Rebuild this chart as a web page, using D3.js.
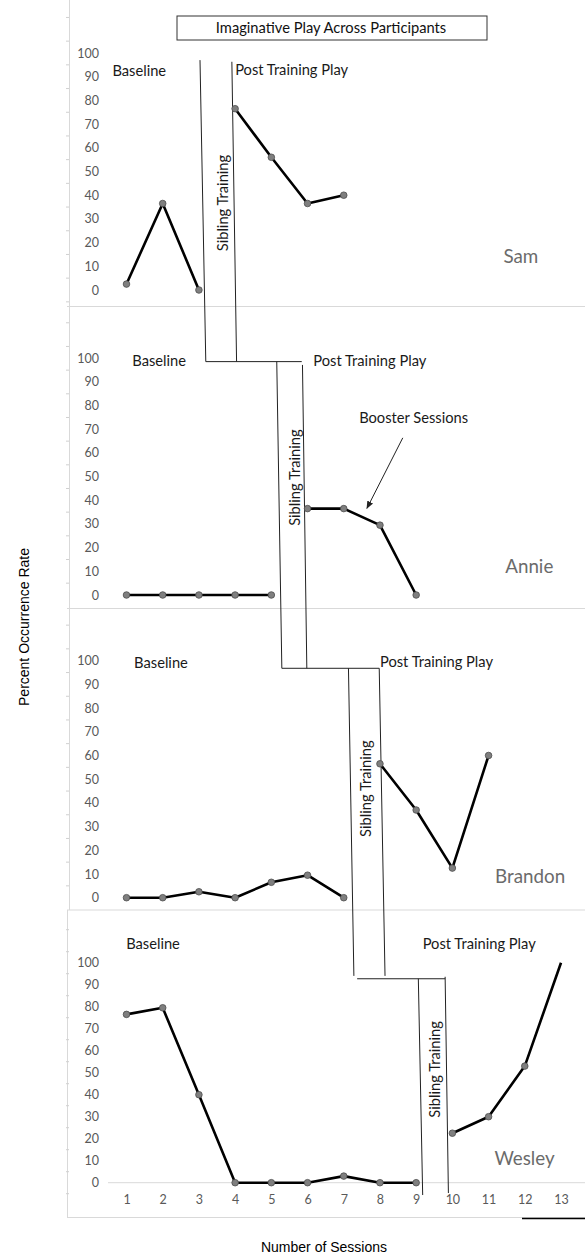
<!DOCTYPE html>
<html>
<head>
<meta charset="utf-8">
<script src="https://cdn.jsdelivr.net/npm/d3@7"></script>
<style>
  body { margin: 0; background: #fff; }
  svg text { font-family: Lato, "Open Sans", sans-serif; }
</style>
</head>
<body>
<div class="container"></div>
<script>
const yTicks = [0, 10, 20, 30, 40, 50, 60, 70, 80, 90, 100];
const sessionTicks = [1, 2, 3, 4, 5, 6, 7, 8, 9, 10, 11, 12, 13];
const participants = ["Sam", "Annie", "Brandon", "Wesley"];

const baselineSessions = [
  [1, 2, 3],
  [1, 2, 3, 4, 5],
  [1, 2, 3, 4, 5, 6, 7],
  [1, 2, 3, 4, 5, 6, 7, 8, 9]
];
const baselineValues = [
  [2.5, 36.5, 0],
  [0, 0, 0, 0, 0],
  [0, 0, 2.5, 0, 6.5, 9.5, 0],
  [76.5, 79.5, 40, 0, 0, 0, 3, 0, 0]
];
const postSessions = [
  [4, 5, 6, 7],
  [6, 7, 8, 9],
  [8, 9, 10, 11],
  [10, 11, 12, 13]
];
const postValues = [
  [76.5, 56, 36.5, 40],
  [36.5, 36.5, 29.5, 0],
  [56.5, 37, 12.5, 60],
  [22.5, 30, 53, 100]
];

const w = 585, h = 1259;
const labelSize = 14.7;

// pixel layout of the four stacked panels
const panels = [
  { y100: 53, y0: 290, bottom: 306.5 },
  { y100: 358.3, y0: 595, bottom: 608.5 },
  { y100: 660.7, y0: 897.7, bottom: 910 },
  { y100: 962.7, y0: 1182.7, bottom: 1217.5 }
];

const xScale = d3.scaleLinear().domain([1, 13]).range([126.5, 561]);
const yScales = panels.map(p => d3.scaleLinear().domain([0, 100]).range([p.y0, p.y100]));
const pt = (i, s, v) => [xScale(s), yScales[i](v)];

const svg = d3.select(".container")
  .append("svg")
  .attr("width", w)
  .attr("height", h)
  .attr("viewBox", [0, 0, w, h]);

// frame: left border, panel separators, bottom
svg.append("line").attr("x1", 69.5).attr("x2", 69.5).attr("y1", 0).attr("y2", 910)
  .attr("stroke", "#d9d9d9");
svg.append("line").attr("x1", 67.5).attr("x2", 67.5).attr("y1", 910).attr("y2", 1217.5)
  .attr("stroke", "#d9d9d9");
panels.forEach(p => {
  svg.append("line").attr("x1", 67).attr("x2", w).attr("y1", p.bottom).attr("y2", p.bottom)
    .attr("stroke", "#d9d9d9");
});
svg.append("line").attr("x1", 522).attr("x2", w).attr("y1", 1218.5).attr("y2", 1218.5)
  .attr("stroke", "#000").attr("stroke-width", 1.5);

// faint stubs on the left border
panels.forEach((p, i) => {
  const top = i === 0 ? 0 : panels[i - 1].bottom;
  d3.range(-5, 130, 10).forEach(v => {
    const y = yScales[i](v);
    if (y > top + 3 && y < p.bottom - 3) {
      svg.append("line").attr("x1", 66).attr("x2", 69).attr("y1", y).attr("y2", y)
        .attr("stroke", "#d0d0d0");
    }
  });
});

// title box
svg.append("rect").attr("x", 177).attr("y", 16).attr("width", 310).attr("height", 24)
  .attr("fill", "none").attr("stroke", "#333").attr("stroke-width", 1);
svg.append("text").attr("x", 331).attr("y", 28).attr("dy", "0.35em").attr("text-anchor", "middle")
  .attr("font-size", labelSize).attr("fill", "#111")
  .text("Imaginative Play Across Participants");

// y axes
panels.forEach((p, i) => {
  const g = svg.append("g")
    .attr("transform", "translate(102,0)")
    .call(d3.axisLeft(yScales[i]).tickValues(yTicks).tickSize(0).tickPadding(3));
  g.select(".domain").remove();
  g.selectAll("text").attr("font-size", 12.5).attr("fill", "#595959")
    .style("font-family", "Lato, 'Open Sans', sans-serif");
});

// x axis on the last panel
svg.append("line").attr("x1", 108).attr("x2", w).attr("y1", panels[3].y0).attr("y2", panels[3].y0)
  .attr("stroke", "#d9d9d9");
const gx = svg.append("g")
  .attr("transform", `translate(0,${panels[3].y0})`)
  .call(d3.axisBottom(xScale).tickValues(sessionTicks).tickSize(0).tickPadding(12));
gx.select(".domain").remove();
gx.selectAll("text").attr("font-size", 12.5).attr("fill", "#595959")
  .style("font-family", "Lato, 'Open Sans', sans-serif");

// phase-change lines (staircase)
const phaseLines = [
  [[0, 3.03, 97], [1, 3.19, 98.6]],
  [[0, 3.91, 96.3], [1, 4.04, 98.6]],
  [[1, 3.19, 98.6], [1, 5.84, 98.6]],
  [[1, 5.15, 98.6], [2, 5.29, 96.8]],
  [[1, 5.86, 97.2], [2, 5.98, 96.8]],
  [[2, 5.29, 96.8], [2, 7.98, 96.8]],
  [[2, 7.13, 96.8], [3, 7.28, 94]],
  [[2, 7.98, 96.8], [3, 8.14, 94]],
  [[3, 7.37, 92.7], [3, 9.80, 92.7]],
  [[3, 9.06, 92.7], [3, 9.18, -5.6]],
  [[3, 9.80, 93.6], [3, 9.89, -4.7]]
];
svg.append("g").selectAll("line")
  .data(phaseLines)
  .join("line")
  .attr("x1", d => pt(...d[0])[0])
  .attr("y1", d => pt(...d[0])[1])
  .attr("x2", d => pt(...d[1])[0])
  .attr("y2", d => pt(...d[1])[1])
  .attr("stroke", "#222")
  .attr("stroke-width", 1);

// phase labels
const baselineLabelPos = [[0.61, 92.5], [1.16, 98.9], [1.21, 99.3], [0.99, 108.5]];
const postLabelPos = [[4.0, 92.8], [6.16, 98.9], [8.0, 99.5], [9.18, 108.5]];
const siblingLabelPos = [[3.67, 36.7], [5.65, 49.6], [7.61, 46], [9.52, 51.5]];
const nameLabelPos = [[11.41, 14.3], [11.46, 12], [11.18, 8.9], [11.16, 11.1]];

panels.forEach((p, i) => {
  const b = pt(i, ...baselineLabelPos[i]);
  svg.append("text").attr("x", b[0]).attr("y", b[1]).attr("dy", "0.35em")
    .attr("font-size", labelSize).attr("fill", "#1a1a1a").text("Baseline");
  const q = pt(i, ...postLabelPos[i]);
  svg.append("text").attr("x", q[0]).attr("y", q[1]).attr("dy", "0.35em")
    .attr("font-size", labelSize).attr("fill", "#1a1a1a").text("Post Training Play");
  const s = pt(i, ...siblingLabelPos[i]);
  svg.append("text").attr("transform", `translate(${s[0]},${s[1]}) rotate(-90)`)
    .attr("dy", "0.35em").attr("text-anchor", "middle")
    .attr("font-size", labelSize).attr("fill", "#1a1a1a").text("Sibling Training");
  const n = pt(i, ...nameLabelPos[i]);
  svg.append("text").attr("x", n[0]).attr("y", n[1]).attr("dy", "0.35em")
    .attr("font-size", 18.8).attr("fill", "#6b6b6b").text(participants[i]);
});

// booster annotation on Annie
const boosterText = pt(1, 8.93, 74.8);
svg.append("text").attr("x", boosterText[0]).attr("y", boosterText[1]).attr("dy", "0.35em")
  .attr("text-anchor", "middle").attr("font-size", labelSize).attr("fill", "#1a1a1a")
  .text("Booster Sessions");
svg.append("defs").append("marker")
  .attr("id", "arrow").attr("viewBox", "0 0 10 10").attr("refX", 9).attr("refY", 5)
  .attr("markerWidth", 8).attr("markerHeight", 8).attr("orient", "auto")
  .append("path").attr("d", "M0,1L10,5L0,9Z").attr("fill", "#222");
const a0 = pt(1, 8.63, 66.4), a1 = pt(1, 7.64, 36.6);
svg.append("line").attr("x1", a0[0]).attr("y1", a0[1]).attr("x2", a1[0]).attr("y2", a1[1])
  .attr("stroke", "#222").attr("stroke-width", 1).attr("marker-end", "url(#arrow)");

// data series
panels.forEach((p, i) => {
  const y = yScales[i];
  const line = d3.line().x(d => xScale(d.s)).y(d => y(d.v));
  [[baselineSessions[i], baselineValues[i]], [postSessions[i], postValues[i]]].forEach(([ss, vs]) => {
    const data = ss.map((s, k) => ({ s, v: vs[k] }));
    svg.append("path")
      .datum(data)
      .attr("fill", "none")
      .attr("stroke", "#000")
      .attr("stroke-width", 2.6)
      .attr("stroke-linejoin", "round")
      .attr("d", line);
    svg.append("g").selectAll("circle")
      .data(data.filter(d => d.v < 100))
      .join("circle")
      .attr("cx", d => xScale(d.s))
      .attr("cy", d => y(d.v))
      .attr("r", 3.3)
      .attr("fill", "#7f7f7f")
      .attr("stroke", "#4d4d4d")
      .attr("stroke-width", 0.8);
  });
});

// axis titles
svg.append("text").attr("x", 324).attr("y", 1251.5).attr("text-anchor", "middle")
  .attr("font-size", 14).attr("fill", "#000")
  .style("font-family", "'Liberation Sans', Arial, sans-serif")
  .text("Number of Sessions");
svg.append("text").attr("transform", "translate(29,627) rotate(-90)")
  .attr("text-anchor", "middle").attr("font-size", 14).attr("fill", "#000")
  .style("font-family", "'Liberation Sans', Arial, sans-serif")
  .text("Percent Occurrence Rate");
</script>
</body>
</html>
